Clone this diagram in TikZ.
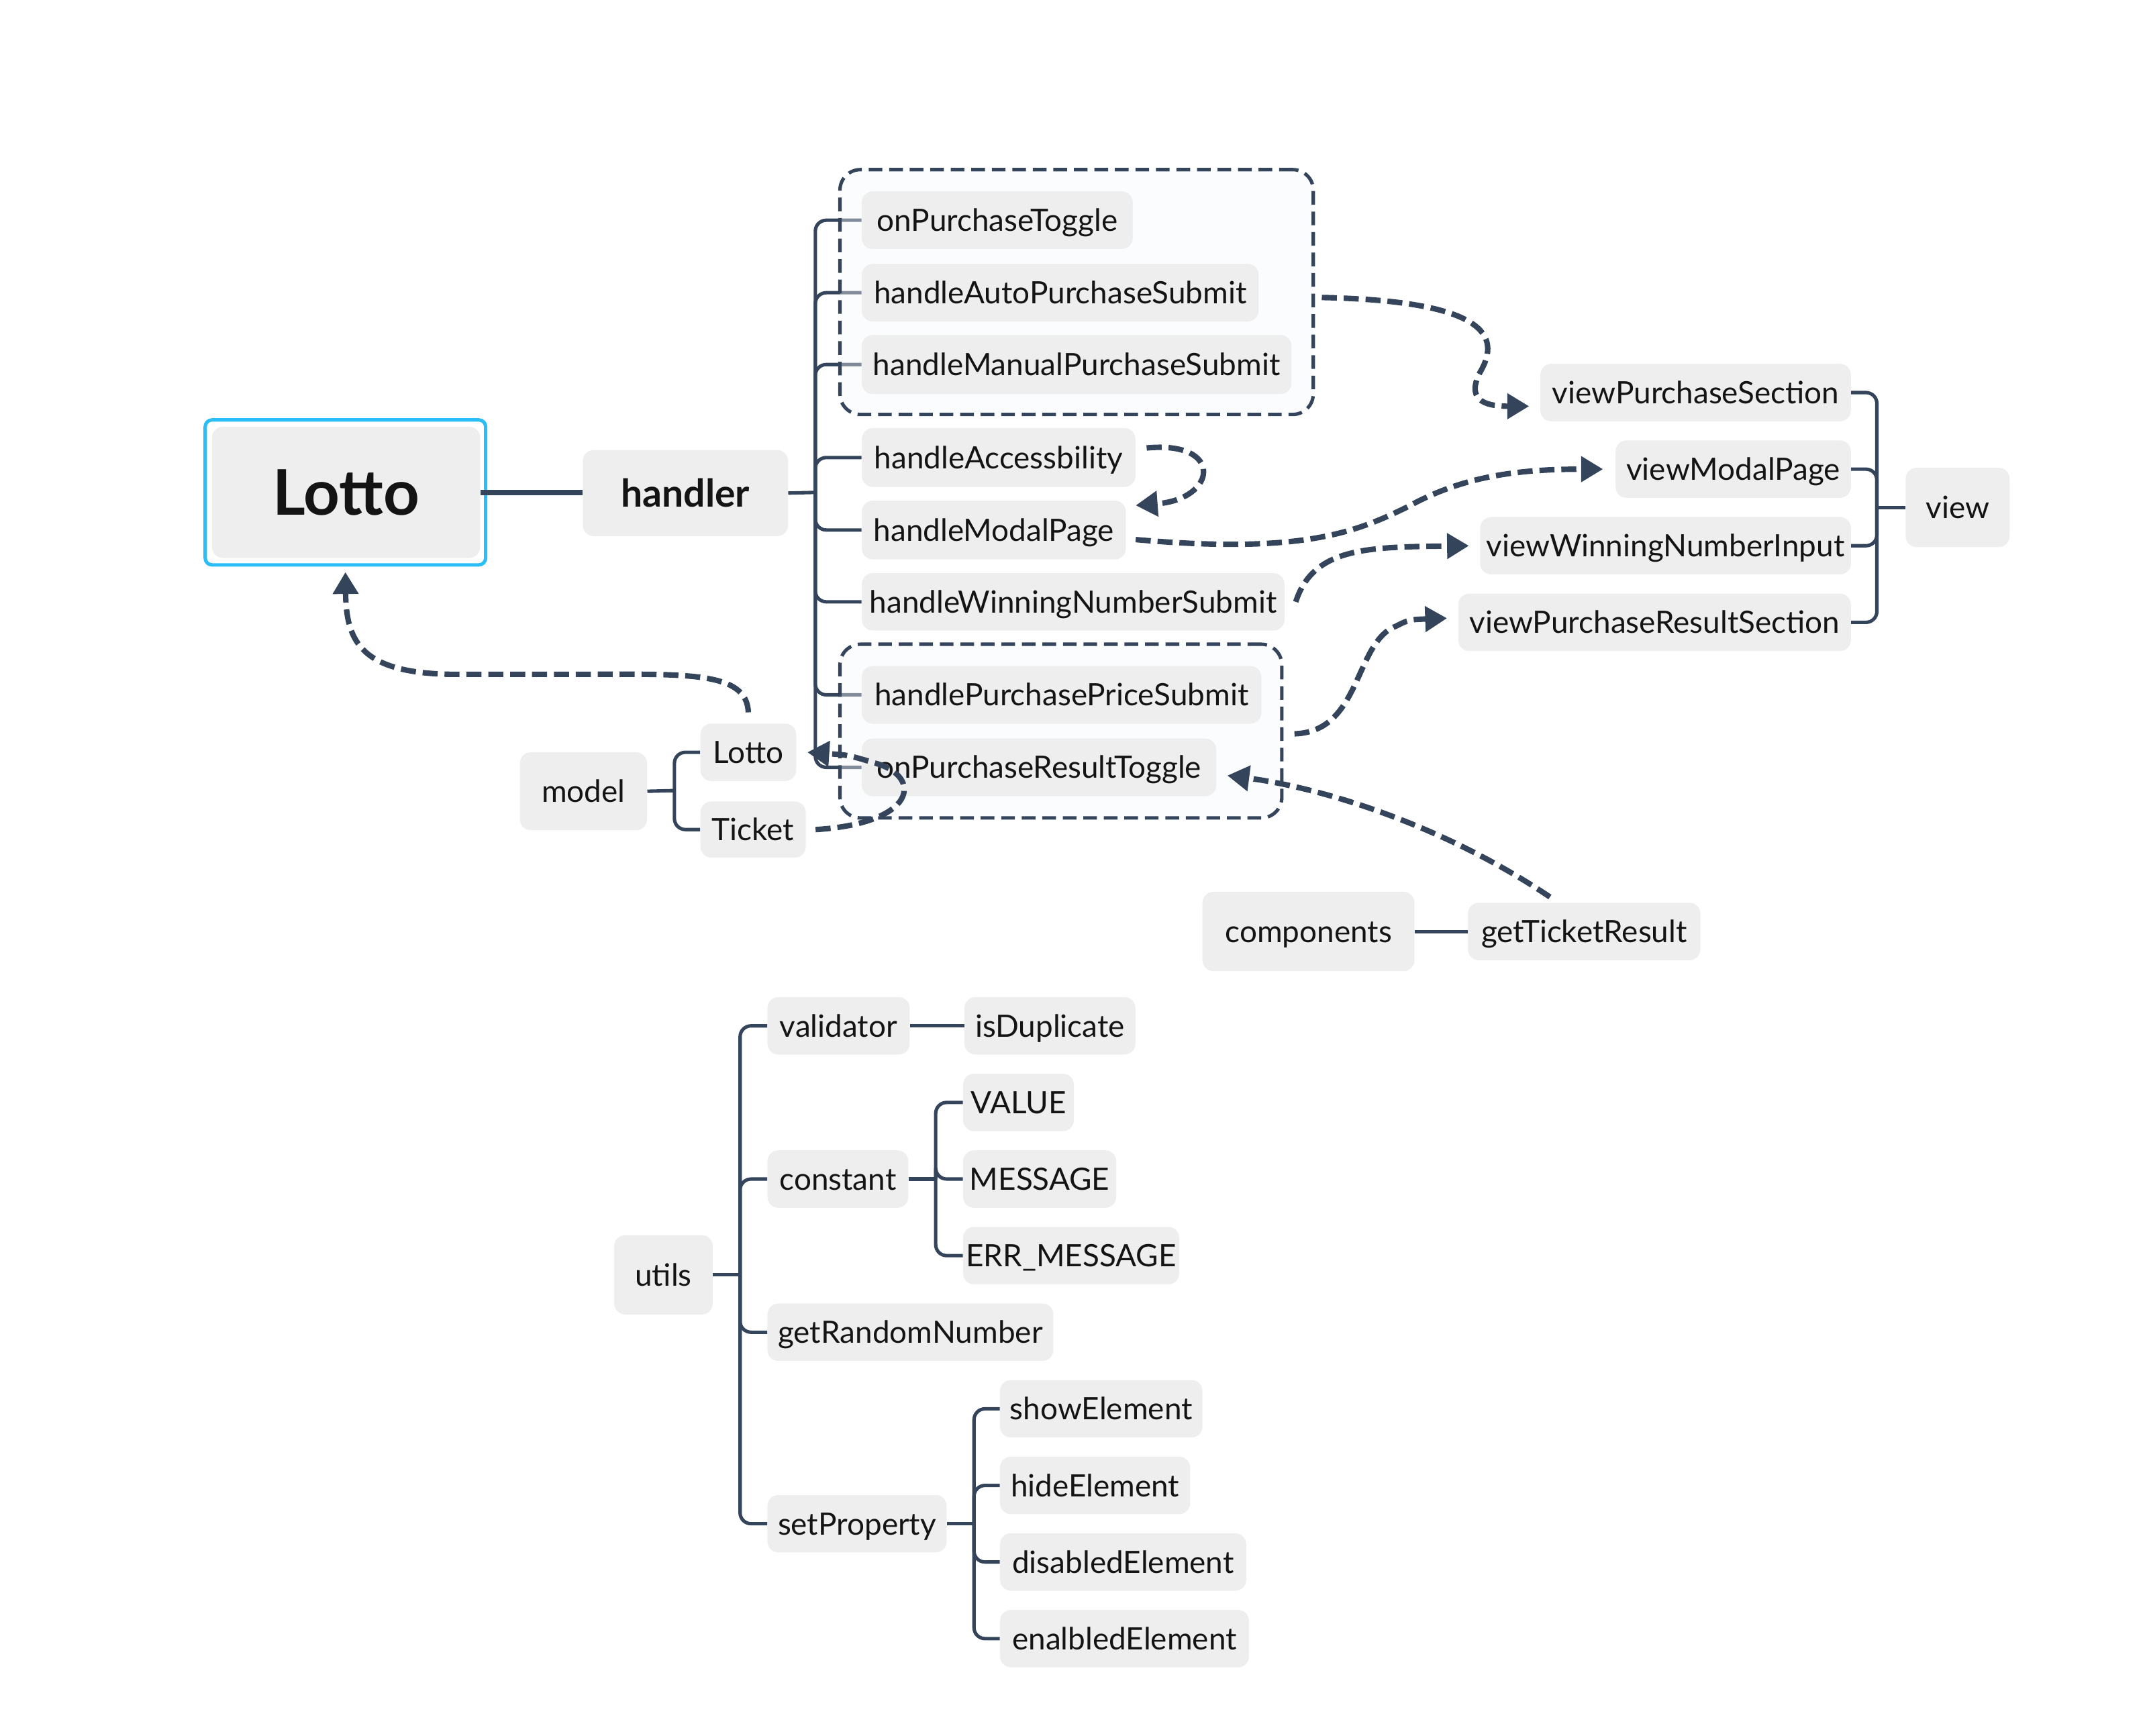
\documentclass[tikz,border=0pt]{standalone}
\usepackage{fontspec}
\setmainfont{Lato}
\usetikzlibrary{arrows.meta}
\definecolor{ln}{HTML}{34445A}
\definecolor{nf}{HTML}{EEEEEE}
\definecolor{tx}{HTML}{141414}
\definecolor{bl}{HTML}{2BBEF6}
\definecolor{gf}{HTML}{F5F7FA}
\newcommand{\mnode}[6]{\node[box, minimum width={#4-#2}, minimum height={#5-#3}] (#1) at ({(#2+#4)/2},{(#3+#5)/2}) {#6};}
\begin{document}
\begin{tikzpicture}[x=1pt,y=-1pt,
  box/.style={fill=nf, rounded corners=8pt, inner sep=0pt, text=tx, font=\fontsize{22.5}{27}\selectfont, text height=16.2pt, text depth=0pt},
  br/.style={draw=ln, line width=2.5pt, rounded corners=8pt},
  grp/.style={draw=ln, line width=2.5pt, dash pattern=on 10pt off 5pt, rounded corners=15pt, fill=gf, fill opacity=0.4, inner sep=0pt},
  dsh/.style={draw=ln, line width=4pt, dash pattern=on 11pt off 5pt, -{Triangle[length=16pt,width=18pt]}}]
\useasboundingbox (0,0) rectangle (1568,1269);
% nodes
\node[draw=bl, line width=2.5pt, rounded corners=5pt, minimum width=205pt, minimum height=106pt, inner sep=0pt] (rootout) at (252.5,360) {};
\node[box, minimum width=196pt, minimum height=96pt, font=\fontsize{46}{52}\selectfont\bfseries, text height=33pt] (root) at (253,360) {Lotto};
\node[box, minimum width=150pt, minimum height=63pt, font=\fontsize{28}{32}\selectfont\bfseries, text height=20pt] (handler) at (501,360.5) {handler};
\mnode{opt}{630}{140}{828}{182}{onPurchaseToggle}
\mnode{haps}{630}{193}{920}{235}{handleAutoPurchaseSubmit}
\mnode{hmps}{630}{245}{944}{288}{handleManualPurchaseSubmit}
\mnode{acc}{630}{313}{830}{356}{handleAccessbility}
\mnode{hmp}{630}{366}{823}{409}{handleModalPage}
\mnode{hwns}{630}{419}{939}{461}{handleWinningNumberSubmit}
\mnode{hpps}{630}{487}{922}{529}{handlePurchasePriceSubmit}
\mnode{oprt}{630}{540}{889}{582}{onPurchaseResultToggle}
\mnode{view}{1393}{342}{1469}{400}{view}
\mnode{vps}{1126}{266}{1353}{308}{viewPurchaseSection}
\mnode{vmp}{1181}{322}{1353}{364}{viewModalPage}
\mnode{vwni}{1082}{378}{1353}{420}{viewWinningNumberInput}
\mnode{vprs}{1066}{434}{1353}{476}{viewPurchaseResultSection}
\mnode{model}{380}{550}{473}{607}{model}
\mnode{mlotto}{512}{529}{582}{571}{Lotto}
\mnode{ticket}{512}{586}{589}{627}{Ticket}
\mnode{comp}{879}{652}{1034}{710}{components}
\mnode{gtr}{1073}{660}{1243}{702}{getTicketResult}
\mnode{utils}{449}{903}{521}{961}{utils}
\mnode{valid}{561}{729}{665}{771}{validator}
\mnode{isdup}{705}{729}{830}{771}{isDuplicate}
\mnode{const}{561}{841}{664}{883}{constant}
\mnode{value}{704}{785}{785}{827}{VALUE}
\mnode{msg}{704}{841}{816}{883}{MESSAGE}
\mnode{errmsg}{704}{897}{862}{939}{ERR\_MESSAGE}
\mnode{grn}{561}{953}{770}{995}{getRandomNumber}
\mnode{setp}{561}{1093}{692}{1135}{setProperty}
\mnode{show}{731}{1009}{879}{1051}{showElement}
\mnode{hide}{731}{1065}{870}{1107}{hideElement}
\mnode{dis}{731}{1121}{911}{1163}{disabledElement}
\mnode{ena}{731}{1177}{913}{1219}{enalbledElement}
% solid connectors
\draw[ln, line width=4pt] (root.east) -- (root.east -| handler.west);
\coordinate (hb) at (596,360);
\draw[br] (handler.east) -- (hb);
\foreach \c in {opt,haps,hmps,acc,hmp,hwns,hpps,oprt} {\draw[br] (hb) |- (\c.west);}
\coordinate (vb) at (1372,371);
\draw[br] (view.west) -- (vb);
\foreach \c in {vps,vmp,vwni,vprs} {\draw[br] (vb) |- (\c.east);}
\coordinate (mb) at (493,578);
\draw[br] (model.east) -- (mb);
\foreach \c in {mlotto,ticket} {\draw[br] (mb) |- (\c.west);}
\draw[br] (comp.east) -- (gtr.west);
\coordinate (ub) at (541,932);
\draw[br] (utils.east) -- (ub);
\foreach \c in {valid,const,grn,setp} {\draw[br] (ub) |- (\c.west);}
\draw[br] (valid.east) -- (isdup.west);
\coordinate (cb) at (684,862);
\draw[br] (const.east) -- (cb);
\foreach \c in {value,msg,errmsg} {\draw[br] (cb) |- (\c.west);}
\coordinate (sb) at (712,1114);
\draw[br] (setp.east) -- (sb);
\foreach \c in {show,hide,dis,ena} {\draw[br] (sb) |- (\c.west);}
% groups
\node[grp, minimum width=346pt, minimum height=179pt] (g1) at (787,213.5) {};
\node[grp, minimum width=323pt, minimum height=127pt] (g2) at (775.5,534.5) {};
% redraw group members on top of the group fill
\foreach \n/\x/\y/\xx/\yy/\t in {opt/630/140/828/182/onPurchaseToggle, haps/630/193/920/235/handleAutoPurchaseSubmit, hmps/630/245/944/288/handleManualPurchaseSubmit, hpps/630/487/922/529/handlePurchasePriceSubmit, oprt/630/540/889/582/onPurchaseResultToggle}
  {\mnode{\n}{\x}{\y}{\xx}{\yy}{\t}}
% dashed arrows
\draw[dsh] ([shift={(5,4)}]g1.east) .. controls (1085,220) and (1098,245) .. (1082,272) .. controls (1070,295) and (1090,297) .. ([xshift=-8pt,yshift=-10pt]vps.west);
\draw[dsh] ([shift={(8,-7)}]acc.east) .. controls (895,322) and (890,365) .. ([shift={(7,-18)}]hmp.east);
\draw[dsh] ([shift={(7,7)}]hmp.east) .. controls (950,405) and (990,390) .. (1030,370) .. controls (1070,348) and (1110,343) .. ([xshift=-9pt]vmp.west);
\draw[dsh] ([shift={(8,0)}]hwns.east) .. controls (960,400) and (1000,400) .. ([xshift=-8pt]vwni.west);
\draw[dsh] ([shift={(8,2)}]g2.east) .. controls (995,535) and (990,470) .. (1020,458) .. controls (1030,453) .. ([shift={(-8,-3)}]vprs.west);
\draw[dsh] ([shift={(-25,-4)}]gtr.north) .. controls (1050,600) and (960,575) .. ([shift={(8,6)}]oprt.east);
\draw[dsh] ([shift={(7,0)}]ticket.east) .. controls (670,602) and (675,568) .. (640,558) .. controls (620,552) .. ([xshift=8pt]mlotto.east);
\draw[dsh] ([shift={(0,-8)}]mlotto.north) .. controls (546,490) and (500,493) .. (420,493) -- (330,493) .. controls (265,492) and (253,470) .. ([yshift=-4pt]rootout.south);
\end{tikzpicture}
\end{document}
